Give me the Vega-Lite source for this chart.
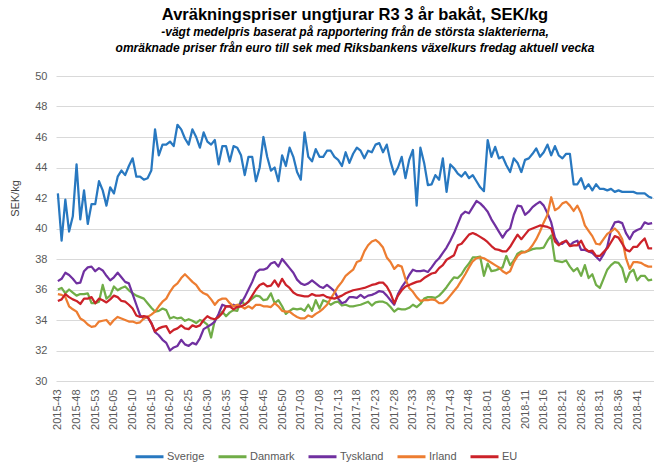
{
"$schema": "https://vega.github.io/schema/vega-lite/v6.json",
"width": 598, "height": 305,
"autosize": "none",
"padding": {"left": 56, "top": 76, "right": 0, "bottom": 86},
"background": "white",
"title": {"text": "Avräkningspriser ungtjurar R3 3 år bakåt, SEK/kg", "subtitle": ["-vägt medelpris baserat på rapportering från de största slakterierna,", "omräknade priser från euro till sek med Riksbankens växelkurs fredag aktuell vecka"], "anchor": "middle", "frame": "group", "font": "Liberation Sans", "fontSize": 16.5, "fontWeight": "bold", "color": "#000000", "subtitleFont": "Liberation Sans", "subtitleFontSize": 12, "subtitleFontStyle": "italic", "subtitleFontWeight": "bold", "subtitleColor": "#000000", "subtitlePadding": 4, "subtitleLineHeight": 16, "offset": 16},
"data": {"values": [
{"v":"2015-43","Sverige":42.3,"Danmark":36.0,"Tyskland":36.55,"Irland":35.7,"EU":35.25},
{"v":"2015-44","Sverige":39.2,"Danmark":36.1,"Tyskland":36.7,"Irland":35.65,"EU":35.35},
{"v":"2015-45","Sverige":41.9,"Danmark":35.75,"Tyskland":37.1,"Irland":35.5,"EU":35.7},
{"v":"2015-46","Sverige":39.8,"Danmark":36.0,"Tyskland":36.95,"Irland":34.9,"EU":35.5},
{"v":"2015-47","Sverige":40.8,"Danmark":35.8,"Tyskland":36.7,"Irland":34.7,"EU":35.35},
{"v":"2015-48","Sverige":44.2,"Danmark":35.6,"Tyskland":36.4,"Irland":34.55,"EU":35.25},
{"v":"2015-49","Sverige":40.6,"Danmark":35.7,"Tyskland":36.45,"Irland":34.1,"EU":35.05},
{"v":"2015-50","Sverige":42.5,"Danmark":35.7,"Tyskland":37.2,"Irland":33.95,"EU":35.4},
{"v":"2015-51","Sverige":40.3,"Danmark":35.75,"Tyskland":37.45,"Irland":33.7,"EU":35.4},
{"v":"2015-52","Sverige":41.6,"Danmark":35.1,"Tyskland":37.5,"Irland":33.55,"EU":35.5},
{"v":"2015-53","Sverige":41.6,"Danmark":35.1,"Tyskland":37.2,"Irland":33.6,"EU":35.1},
{"v":"2016-01","Sverige":43.1,"Danmark":35.2,"Tyskland":37.4,"Irland":33.9,"EU":35.4},
{"v":"2016-02","Sverige":42.5,"Danmark":36.3,"Tyskland":37.25,"Irland":33.95,"EU":35.3},
{"v":"2016-03","Sverige":41.5,"Danmark":35.4,"Tyskland":36.9,"Irland":34.0,"EU":35.15},
{"v":"2016-04","Sverige":42.7,"Danmark":35.6,"Tyskland":36.6,"Irland":33.7,"EU":35.35},
{"v":"2016-05","Sverige":42.3,"Danmark":36.2,"Tyskland":36.8,"Irland":34.0,"EU":35.6},
{"v":"2016-06","Sverige":43.4,"Danmark":35.95,"Tyskland":37.1,"Irland":34.2,"EU":35.5},
{"v":"2016-07","Sverige":43.8,"Danmark":36.1,"Tyskland":36.8,"Irland":34.1,"EU":35.25},
{"v":"2016-08","Sverige":43.5,"Danmark":36.2,"Tyskland":36.5,"Irland":34.0,"EU":35.2},
{"v":"2016-09","Sverige":44.1,"Danmark":35.95,"Tyskland":36.4,"Irland":33.9,"EU":35.0},
{"v":"2016-10","Sverige":44.6,"Danmark":35.75,"Tyskland":35.7,"Irland":33.9,"EU":34.75},
{"v":"2016-11","Sverige":43.4,"Danmark":35.6,"Tyskland":35.0,"Irland":33.8,"EU":34.3},
{"v":"2016-12","Sverige":43.4,"Danmark":35.5,"Tyskland":34.3,"Irland":33.85,"EU":34.2},
{"v":"2016-13","Sverige":43.2,"Danmark":35.4,"Tyskland":34.1,"Irland":34.1,"EU":34.25},
{"v":"2016-14","Sverige":43.3,"Danmark":35.1,"Tyskland":34.2,"Irland":34.2,"EU":34.2},
{"v":"2016-15","Sverige":43.8,"Danmark":34.8,"Tyskland":33.8,"Irland":34.35,"EU":33.8},
{"v":"2016-16","Sverige":46.5,"Danmark":34.55,"Tyskland":33.2,"Irland":34.55,"EU":33.25},
{"v":"2016-17","Sverige":44.8,"Danmark":34.6,"Tyskland":33.0,"Irland":34.9,"EU":33.45},
{"v":"2016-18","Sverige":45.5,"Danmark":34.75,"Tyskland":32.7,"Irland":35.2,"EU":33.55},
{"v":"2016-19","Sverige":45.5,"Danmark":34.65,"Tyskland":32.5,"Irland":35.4,"EU":33.6},
{"v":"2016-20","Sverige":45.7,"Danmark":34.1,"Tyskland":32.0,"Irland":35.85,"EU":33.15},
{"v":"2016-21","Sverige":45.4,"Danmark":34.2,"Tyskland":32.2,"Irland":36.2,"EU":33.35},
{"v":"2016-22","Sverige":46.8,"Danmark":34.1,"Tyskland":32.3,"Irland":36.4,"EU":33.45},
{"v":"2016-23","Sverige":46.5,"Danmark":34.15,"Tyskland":32.7,"Irland":36.75,"EU":33.65},
{"v":"2016-24","Sverige":45.9,"Danmark":33.95,"Tyskland":32.4,"Irland":37.0,"EU":33.45},
{"v":"2016-25","Sverige":45.5,"Danmark":34.05,"Tyskland":32.3,"Irland":36.75,"EU":33.4},
{"v":"2016-26","Sverige":46.5,"Danmark":33.95,"Tyskland":32.5,"Irland":36.5,"EU":33.65},
{"v":"2016-27","Sverige":46.0,"Danmark":33.8,"Tyskland":32.4,"Irland":36.3,"EU":33.55},
{"v":"2016-28","Sverige":45.3,"Danmark":34.0,"Tyskland":32.8,"Irland":35.95,"EU":33.65},
{"v":"2016-29","Sverige":46.3,"Danmark":33.9,"Tyskland":33.4,"Irland":35.75,"EU":34.0},
{"v":"2016-30","Sverige":45.7,"Danmark":33.7,"Tyskland":33.55,"Irland":35.65,"EU":34.25},
{"v":"2016-31","Sverige":45.5,"Danmark":32.85,"Tyskland":33.7,"Irland":35.35,"EU":34.1},
{"v":"2016-32","Sverige":45.8,"Danmark":34.0,"Tyskland":33.9,"Irland":35.0,"EU":34.05},
{"v":"2016-33","Sverige":44.2,"Danmark":34.2,"Tyskland":34.4,"Irland":35.3,"EU":34.2},
{"v":"2016-34","Sverige":45.4,"Danmark":34.55,"Tyskland":35.0,"Irland":35.4,"EU":34.45},
{"v":"2016-35","Sverige":45.4,"Danmark":34.25,"Tyskland":34.9,"Irland":35.4,"EU":34.9},
{"v":"2016-36","Sverige":44.4,"Danmark":34.5,"Tyskland":34.9,"Irland":35.1,"EU":34.9},
{"v":"2016-37","Sverige":45.4,"Danmark":34.65,"Tyskland":35.0,"Irland":34.9,"EU":34.7},
{"v":"2016-38","Sverige":45.3,"Danmark":34.6,"Tyskland":34.9,"Irland":35.0,"EU":34.85},
{"v":"2016-39","Sverige":44.8,"Danmark":35.3,"Tyskland":35.1,"Irland":34.9,"EU":34.9},
{"v":"2016-40","Sverige":43.5,"Danmark":35.0,"Tyskland":35.5,"Irland":34.75,"EU":35.0},
{"v":"2016-41","Sverige":44.7,"Danmark":35.2,"Tyskland":36.0,"Irland":34.9,"EU":35.2},
{"v":"2016-42","Sverige":44.7,"Danmark":35.4,"Tyskland":36.5,"Irland":34.75,"EU":35.6},
{"v":"2016-43","Sverige":43.1,"Danmark":35.6,"Tyskland":37.1,"Irland":35.0,"EU":36.0},
{"v":"2016-44","Sverige":44.0,"Danmark":35.55,"Tyskland":37.3,"Irland":35.0,"EU":36.3},
{"v":"2016-45","Sverige":46.0,"Danmark":35.3,"Tyskland":37.3,"Irland":34.9,"EU":36.4},
{"v":"2016-46","Sverige":44.7,"Danmark":35.35,"Tyskland":37.4,"Irland":34.9,"EU":36.2},
{"v":"2016-47","Sverige":43.8,"Danmark":35.75,"Tyskland":37.7,"Irland":34.85,"EU":36.25},
{"v":"2016-48","Sverige":44.0,"Danmark":35.1,"Tyskland":37.8,"Irland":35.1,"EU":36.6},
{"v":"2016-49","Sverige":43.1,"Danmark":35.3,"Tyskland":37.5,"Irland":34.9,"EU":36.2},
{"v":"2016-50","Sverige":44.8,"Danmark":34.9,"Tyskland":38.0,"Irland":34.6,"EU":36.7},
{"v":"2016-51","Sverige":44.1,"Danmark":34.4,"Tyskland":37.7,"Irland":34.55,"EU":36.3},
{"v":"2016-52","Sverige":45.3,"Danmark":34.6,"Tyskland":37.4,"Irland":34.55,"EU":36.1},
{"v":"2017-01","Sverige":44.7,"Danmark":34.75,"Tyskland":37.1,"Irland":34.35,"EU":35.8},
{"v":"2017-02","Sverige":43.7,"Danmark":34.7,"Tyskland":36.65,"Irland":34.2,"EU":35.65},
{"v":"2017-03","Sverige":43.2,"Danmark":34.75,"Tyskland":36.4,"Irland":34.1,"EU":35.6},
{"v":"2017-04","Sverige":46.3,"Danmark":34.6,"Tyskland":36.3,"Irland":34.1,"EU":35.55},
{"v":"2017-05","Sverige":44.7,"Danmark":35.0,"Tyskland":36.4,"Irland":34.3,"EU":35.55},
{"v":"2017-06","Sverige":44.4,"Danmark":34.6,"Tyskland":36.6,"Irland":34.2,"EU":35.7},
{"v":"2017-07","Sverige":45.2,"Danmark":35.3,"Tyskland":36.4,"Irland":34.4,"EU":35.6},
{"v":"2017-08","Sverige":44.7,"Danmark":34.75,"Tyskland":36.2,"Irland":34.55,"EU":35.6},
{"v":"2017-09","Sverige":44.7,"Danmark":35.3,"Tyskland":36.1,"Irland":34.75,"EU":35.65},
{"v":"2017-10","Sverige":45.1,"Danmark":35.2,"Tyskland":36.3,"Irland":35.0,"EU":35.5},
{"v":"2017-11","Sverige":45.1,"Danmark":35.0,"Tyskland":36.1,"Irland":35.4,"EU":35.45},
{"v":"2017-12","Sverige":44.7,"Danmark":35.15,"Tyskland":35.9,"Irland":35.8,"EU":35.4},
{"v":"2017-13","Sverige":44.5,"Danmark":35.2,"Tyskland":35.4,"Irland":36.2,"EU":35.5},
{"v":"2017-14","Sverige":44.1,"Danmark":34.95,"Tyskland":35.1,"Irland":36.5,"EU":35.6},
{"v":"2017-15","Sverige":45.0,"Danmark":35.0,"Tyskland":35.2,"Irland":36.9,"EU":35.75},
{"v":"2017-16","Sverige":44.3,"Danmark":34.9,"Tyskland":35.5,"Irland":37.1,"EU":35.85},
{"v":"2017-17","Sverige":44.9,"Danmark":34.9,"Tyskland":35.5,"Irland":37.3,"EU":35.95},
{"v":"2017-18","Sverige":45.3,"Danmark":34.95,"Tyskland":35.45,"Irland":37.8,"EU":36.0},
{"v":"2017-19","Sverige":45.1,"Danmark":35.0,"Tyskland":35.65,"Irland":37.9,"EU":36.05},
{"v":"2017-20","Sverige":44.6,"Danmark":35.1,"Tyskland":35.45,"Irland":38.5,"EU":36.1},
{"v":"2017-21","Sverige":45.1,"Danmark":35.2,"Tyskland":35.6,"Irland":38.9,"EU":36.2},
{"v":"2017-22","Sverige":45.0,"Danmark":34.95,"Tyskland":35.65,"Irland":39.15,"EU":36.3},
{"v":"2017-23","Sverige":45.5,"Danmark":35.15,"Tyskland":35.75,"Irland":39.25,"EU":36.35},
{"v":"2017-24","Sverige":45.6,"Danmark":35.2,"Tyskland":35.9,"Irland":39.05,"EU":36.45},
{"v":"2017-25","Sverige":45.0,"Danmark":35.2,"Tyskland":35.85,"Irland":38.75,"EU":36.45},
{"v":"2017-26","Sverige":45.5,"Danmark":35.1,"Tyskland":35.6,"Irland":38.1,"EU":36.2},
{"v":"2017-27","Sverige":44.4,"Danmark":34.85,"Tyskland":35.3,"Irland":37.8,"EU":35.75},
{"v":"2017-28","Sverige":43.55,"Danmark":34.55,"Tyskland":35.0,"Irland":37.35,"EU":35.1},
{"v":"2017-29","Sverige":44.0,"Danmark":34.75,"Tyskland":35.7,"Irland":37.6,"EU":35.6},
{"v":"2017-30","Sverige":44.7,"Danmark":34.7,"Tyskland":36.15,"Irland":37.5,"EU":35.95},
{"v":"2017-31","Sverige":43.3,"Danmark":34.7,"Tyskland":36.5,"Irland":36.7,"EU":36.2},
{"v":"2017-32","Sverige":44.5,"Danmark":34.8,"Tyskland":36.95,"Irland":36.1,"EU":36.3},
{"v":"2017-33","Sverige":45.15,"Danmark":35.0,"Tyskland":37.3,"Irland":35.85,"EU":36.4},
{"v":"2017-34","Sverige":41.5,"Danmark":34.85,"Tyskland":37.2,"Irland":35.5,"EU":36.5},
{"v":"2017-35","Sverige":45.3,"Danmark":35.05,"Tyskland":37.2,"Irland":35.25,"EU":36.55},
{"v":"2017-36","Sverige":44.3,"Danmark":35.4,"Tyskland":37.25,"Irland":35.3,"EU":36.75},
{"v":"2017-37","Sverige":42.85,"Danmark":35.5,"Tyskland":37.15,"Irland":35.3,"EU":36.9},
{"v":"2017-38","Sverige":42.9,"Danmark":35.5,"Tyskland":37.45,"Irland":35.35,"EU":37.05},
{"v":"2017-39","Sverige":43.5,"Danmark":35.45,"Tyskland":37.8,"Irland":35.3,"EU":37.1},
{"v":"2017-40","Sverige":43.2,"Danmark":35.6,"Tyskland":38.05,"Irland":35.1,"EU":37.4},
{"v":"2017-41","Sverige":44.6,"Danmark":35.85,"Tyskland":38.4,"Irland":35.1,"EU":37.6},
{"v":"2017-42","Sverige":42.4,"Danmark":36.15,"Tyskland":38.75,"Irland":35.3,"EU":37.95},
{"v":"2017-43","Sverige":44.2,"Danmark":36.5,"Tyskland":39.2,"Irland":35.6,"EU":38.1},
{"v":"2017-44","Sverige":43.95,"Danmark":36.8,"Tyskland":39.7,"Irland":35.9,"EU":38.25},
{"v":"2017-45","Sverige":43.6,"Danmark":36.75,"Tyskland":40.3,"Irland":36.2,"EU":38.9},
{"v":"2017-46","Sverige":43.4,"Danmark":37.0,"Tyskland":40.9,"Irland":36.6,"EU":39.0},
{"v":"2017-47","Sverige":43.7,"Danmark":37.4,"Tyskland":41.1,"Irland":37.0,"EU":39.3},
{"v":"2017-48","Sverige":43.3,"Danmark":37.7,"Tyskland":41.0,"Irland":37.45,"EU":39.6},
{"v":"2017-49","Sverige":43.5,"Danmark":38.1,"Tyskland":41.4,"Irland":37.85,"EU":39.7},
{"v":"2017-50","Sverige":43.1,"Danmark":38.1,"Tyskland":41.8,"Irland":38.05,"EU":39.6},
{"v":"2017-51","Sverige":42.7,"Danmark":38.15,"Tyskland":41.65,"Irland":38.1,"EU":39.45},
{"v":"2017-52","Sverige":42.45,"Danmark":36.9,"Tyskland":41.4,"Irland":38.05,"EU":39.3},
{"v":"2018-01","Sverige":45.8,"Danmark":37.7,"Tyskland":41.1,"Irland":37.9,"EU":39.1},
{"v":"2018-02","Sverige":44.7,"Danmark":37.2,"Tyskland":40.6,"Irland":37.75,"EU":38.85},
{"v":"2018-03","Sverige":45.35,"Danmark":37.25,"Tyskland":40.2,"Irland":37.6,"EU":38.65},
{"v":"2018-04","Sverige":44.6,"Danmark":37.35,"Tyskland":39.8,"Irland":37.45,"EU":38.6},
{"v":"2018-05","Sverige":44.7,"Danmark":37.45,"Tyskland":39.4,"Irland":37.2,"EU":38.5},
{"v":"2018-06","Sverige":44.15,"Danmark":38.2,"Tyskland":39.8,"Irland":37.05,"EU":38.5},
{"v":"2018-07","Sverige":43.7,"Danmark":37.6,"Tyskland":40.0,"Irland":37.2,"EU":38.8},
{"v":"2018-08","Sverige":44.6,"Danmark":37.9,"Tyskland":40.9,"Irland":37.8,"EU":39.2},
{"v":"2018-09","Sverige":44.3,"Danmark":38.35,"Tyskland":41.5,"Irland":38.2,"EU":39.6},
{"v":"2018-10","Sverige":43.7,"Danmark":38.5,"Tyskland":41.45,"Irland":38.4,"EU":39.3},
{"v":"2018-11","Sverige":44.5,"Danmark":38.45,"Tyskland":40.9,"Irland":38.45,"EU":39.6},
{"v":"2018-12","Sverige":44.6,"Danmark":38.55,"Tyskland":41.1,"Irland":38.6,"EU":39.9},
{"v":"2018-13","Sverige":44.9,"Danmark":38.65,"Tyskland":41.4,"Irland":38.9,"EU":40.0},
{"v":"2018-14","Sverige":45.25,"Danmark":38.7,"Tyskland":41.6,"Irland":39.3,"EU":40.1},
{"v":"2018-15","Sverige":44.7,"Danmark":38.7,"Tyskland":41.75,"Irland":39.8,"EU":40.2},
{"v":"2018-16","Sverige":45.0,"Danmark":38.75,"Tyskland":41.5,"Irland":40.4,"EU":40.15},
{"v":"2018-17","Sverige":45.5,"Danmark":39.2,"Tyskland":41.0,"Irland":40.9,"EU":40.1},
{"v":"2018-18","Sverige":44.8,"Danmark":39.55,"Tyskland":40.4,"Irland":42.05,"EU":40.0},
{"v":"2018-19","Sverige":45.4,"Danmark":37.9,"Tyskland":39.4,"Irland":41.2,"EU":39.15},
{"v":"2018-20","Sverige":44.8,"Danmark":37.85,"Tyskland":39.0,"Irland":41.35,"EU":38.9},
{"v":"2018-21","Sverige":44.6,"Danmark":37.8,"Tyskland":39.0,"Irland":41.65,"EU":39.1},
{"v":"2018-22","Sverige":44.9,"Danmark":37.9,"Tyskland":39.2,"Irland":41.75,"EU":39.2},
{"v":"2018-23","Sverige":44.9,"Danmark":37.5,"Tyskland":38.9,"Irland":41.5,"EU":38.85},
{"v":"2018-24","Sverige":42.9,"Danmark":37.2,"Tyskland":39.1,"Irland":41.15,"EU":38.9},
{"v":"2018-25","Sverige":42.9,"Danmark":37.4,"Tyskland":39.2,"Irland":41.5,"EU":38.9},
{"v":"2018-26","Sverige":43.3,"Danmark":36.9,"Tyskland":38.6,"Irland":41.0,"EU":39.2},
{"v":"2018-27","Sverige":42.6,"Danmark":37.6,"Tyskland":38.6,"Irland":40.2,"EU":38.7},
{"v":"2018-28","Sverige":42.9,"Danmark":36.75,"Tyskland":38.5,"Irland":39.85,"EU":38.5},
{"v":"2018-29","Sverige":42.5,"Danmark":37.0,"Tyskland":38.4,"Irland":39.5,"EU":38.55},
{"v":"2018-30","Sverige":42.9,"Danmark":36.3,"Tyskland":38.15,"Irland":39.0,"EU":38.2},
{"v":"2018-31","Sverige":42.6,"Danmark":36.1,"Tyskland":37.9,"Irland":38.95,"EU":38.2},
{"v":"2018-32","Sverige":42.6,"Danmark":36.7,"Tyskland":38.3,"Irland":39.3,"EU":38.45},
{"v":"2018-33","Sverige":42.5,"Danmark":37.3,"Tyskland":38.8,"Irland":39.65,"EU":38.7},
{"v":"2018-34","Sverige":42.6,"Danmark":37.6,"Tyskland":39.9,"Irland":39.8,"EU":39.1},
{"v":"2018-35","Sverige":42.4,"Danmark":37.8,"Tyskland":40.4,"Irland":40.0,"EU":39.5},
{"v":"2018-36","Sverige":42.5,"Danmark":37.75,"Tyskland":40.45,"Irland":39.75,"EU":39.4},
{"v":"2018-37","Sverige":42.4,"Danmark":37.4,"Tyskland":40.35,"Irland":39.3,"EU":39.0},
{"v":"2018-38","Sverige":42.4,"Danmark":36.5,"Tyskland":39.7,"Irland":38.05,"EU":38.6},
{"v":"2018-39","Sverige":42.4,"Danmark":37.1,"Tyskland":39.3,"Irland":37.35,"EU":38.5},
{"v":"2018-40","Sverige":42.4,"Danmark":37.3,"Tyskland":39.75,"Irland":37.8,"EU":38.8},
{"v":"2018-41","Sverige":42.3,"Danmark":36.6,"Tyskland":39.9,"Irland":37.8,"EU":38.8},
{"v":"2018-42","Sverige":42.3,"Danmark":36.9,"Tyskland":40.0,"Irland":37.75,"EU":39.1},
{"v":"2018-43","Sverige":42.3,"Danmark":36.9,"Tyskland":40.4,"Irland":37.6,"EU":39.35},
{"v":"2018-44","Sverige":42.1,"Danmark":36.6,"Tyskland":40.3,"Irland":37.5,"EU":38.7},
{"v":"2018-45","Sverige":42.0,"Danmark":36.65,"Tyskland":40.35,"Irland":37.5,"EU":38.7}
]},
"transform": [{"fold": ["Sverige","Danmark","Tyskland","Irland","EU"], "as": ["Land","Pris"]}],
"mark": {"type": "line", "strokeWidth": 2.25, "strokeJoin": "round"},
"encoding": {
"x": {"field": "v", "type": "ordinal", "sort": null, "scale": {"type": "point", "padding": 0.5},
 "axis": {"title": null, "values": ["2015-43","2015-48","2015-53","2016-05","2016-10","2016-15","2016-20","2016-25","2016-30","2016-35","2016-40","2016-45","2016-50","2017-03","2017-08","2017-13","2017-18","2017-23","2017-28","2017-33","2017-38","2017-43","2017-48","2018-01","2018-06","2018-11","2018-16","2018-21","2018-26","2018-31","2018-36","2018-41"],
 "labelAngle": -90, "labelFont": "Liberation Sans", "labelFontSize": 11, "labelColor": "#595959", "ticks": false, "domain": false, "grid": false, "labelPadding": 8}},
"y": {"field": "Pris", "type": "quantitative", "scale": {"domain": [30, 50], "nice": false, "zero": false},
 "axis": {"title": "SEK/kg", "values": [30,32,34,36,38,40,42,44,46,48,50], "grid": true, "gridColor": "#D9D9D9", "gridWidth": 1, "domain": false, "ticks": false, "labelFont": "Liberation Sans", "labelFontSize": 11, "labelColor": "#595959", "labelPadding": 9, "titleFont": "Liberation Sans", "titleFontSize": 11, "titleFontWeight": "normal", "titleColor": "#404040", "titleX": -36, "titleY": 122}},
"color": {"field": "Land", "type": "nominal",
 "scale": {"domain": ["Sverige","Danmark","Tyskland","Irland","EU"], "range": ["#2878C0","#70AD47","#7030A0","#ED7D31","#CC2229"]},
 "legend": {"title": null, "orient": "none", "legendX": 78, "legendY": 365, "direction": "horizontal", "symbolType": "stroke", "symbolSize": 784, "symbolStrokeWidth": 3, "labelFont": "Liberation Sans", "labelFontSize": 11, "labelColor": "#595959", "labelOffset": 2, "columnPadding": 7}}
},
"config": {"view": {"stroke": null}}
}
